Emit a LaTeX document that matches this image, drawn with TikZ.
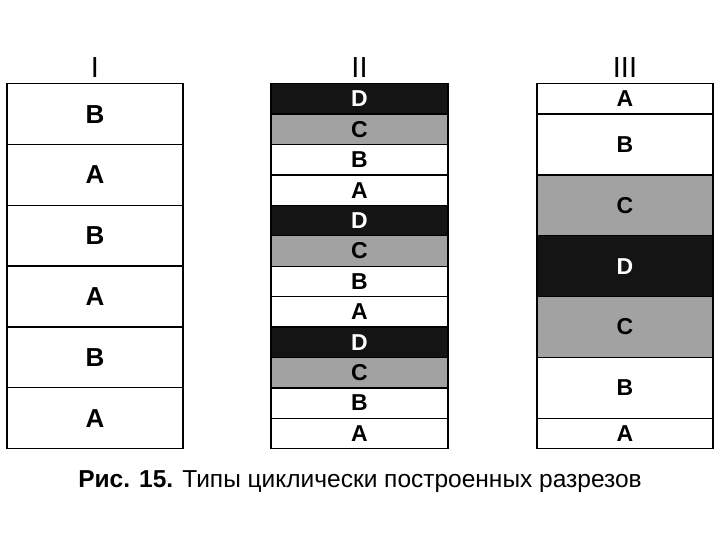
\documentclass[tikz,border=0pt]{standalone}
\usepackage{fontspec}
\setmainfont{Liberation Sans}
\definecolor{cgray}{HTML}{A2A2A2}
\definecolor{dblack}{HTML}{141414}
\begin{document}
\begin{tikzpicture}[x=1pt,y=-1pt]
\useasboundingbox[fill=white] (0,0) rectangle (720,540);
\tikzset{
  band/.style={draw=black, line width=1.3pt, inner sep=0pt, anchor=north},
  bigl/.style={font=\bfseries\fontsize{26}{26}\selectfont},
  smalll/.style={font=\bfseries\fontsize{23}{23}\selectfont},
  roman/.style={font=\fontsize{29}{29}\selectfont},
  captext/.style={font=\fontsize{24.5}{28}\selectfont}
}
% Column I
\foreach \L [count=\i] in {B,A,B,A,B,A}
  \node[band, bigl, fill=white, text=black, minimum width=176pt, minimum height=60.83pt] (I\i) at (95,{83+(\i-1)*60.83}) {\L};
% Column II
\foreach \L/\f/\t [count=\i] in {D/dblack/white,C/cgray/black,B/white/black,A/white/black,D/dblack/white,C/cgray/black,B/white/black,A/white/black,D/dblack/white,C/cgray/black,B/white/black,A/white/black}
  \node[band, smalll, fill=\f, text=\t, minimum width=177pt, minimum height=30.42pt] (II\i) at (359.5,{83+(\i-1)*30.42}) {\L};
% Column III
\foreach \L/\f/\t/\h/\y [count=\i] in {A/white/black/30.42/83,B/white/black/60.83/113.42,C/cgray/black/60.83/174.25,D/dblack/white/60.83/235.08,C/cgray/black/60.83/295.92,B/white/black/60.83/356.75,A/white/black/30.42/417.58}
  \node[band, smalll, fill=\f, text=\t, minimum width=176pt, minimum height=\h pt] (III\i) at (625,\y) {\L};
% headings
\node[roman] (hI) at (95,68) {I};
\node[roman] (hII) at (359.5,68) {II};
\node[roman] (hIII) at (625,68) {III};
% caption
\node[captext] (cap) at (360,482) {\textbf{Рис. 15.} Типы циклически построенных разрезов};
\end{tikzpicture}
\end{document}
